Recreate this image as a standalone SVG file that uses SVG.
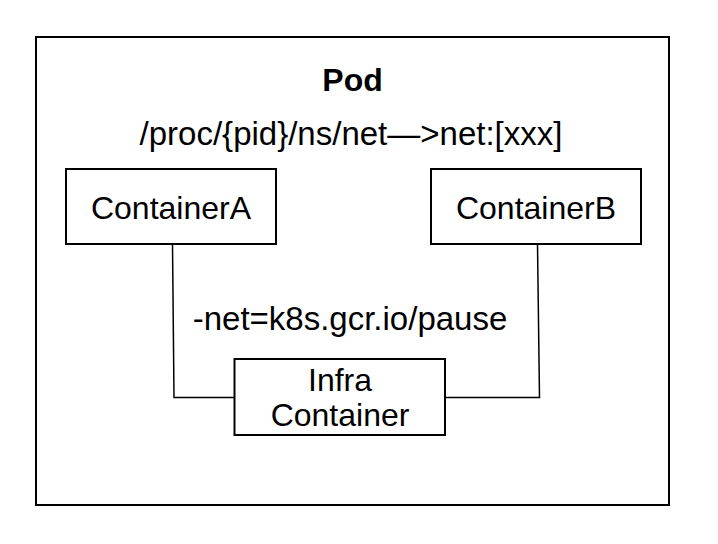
<svg xmlns="http://www.w3.org/2000/svg" width="718" height="544" viewBox="0 0 718 544">
<style>
  .box { fill: #ffffff; stroke: #000000; stroke-width: 2; }
  .lbl { font-family: "Liberation Sans", Arial, Helvetica, sans-serif; font-size: 32px; fill: #000000; text-anchor: middle; }
  .big { font-size: 33px; }
  .bold { font-weight: bold; }
  .conn { fill: none; stroke: #000000; stroke-width: 1.5; }
</style>
<rect width="718" height="544" fill="#ffffff"/>
<g id="pod">
  <rect class="box" x="36" y="37" width="633" height="468"/>
  <text class="lbl bold" x="352.5" y="91">Pod</text>
  <text class="lbl big" x="351" y="145">/proc/{pid}/ns/net—&gt;net:[xxx]</text>
</g>
<g id="connectors">
  <polyline class="conn" points="172.5,244 174,397.5 234,397.5"/>
  <polyline class="conn" points="537.5,244 539.5,397.5 445,397.5"/>
  <text class="lbl big" x="350" y="330">-net=k8s.gcr.io/pause</text>
</g>
<g id="containerA">
  <rect class="box" x="66" y="169" width="210" height="75"/>
  <text class="lbl" x="171" y="219">ContainerA</text>
</g>
<g id="containerB">
  <rect class="box" x="431" y="169" width="210" height="75"/>
  <text class="lbl" x="536" y="219">ContainerB</text>
</g>
<g id="infra">
  <rect class="box" x="234.5" y="359" width="210.5" height="76"/>
  <text class="lbl" x="340" y="391">Infra</text>
  <text class="lbl" x="340" y="425.5">Container</text>
</g>
</svg>
